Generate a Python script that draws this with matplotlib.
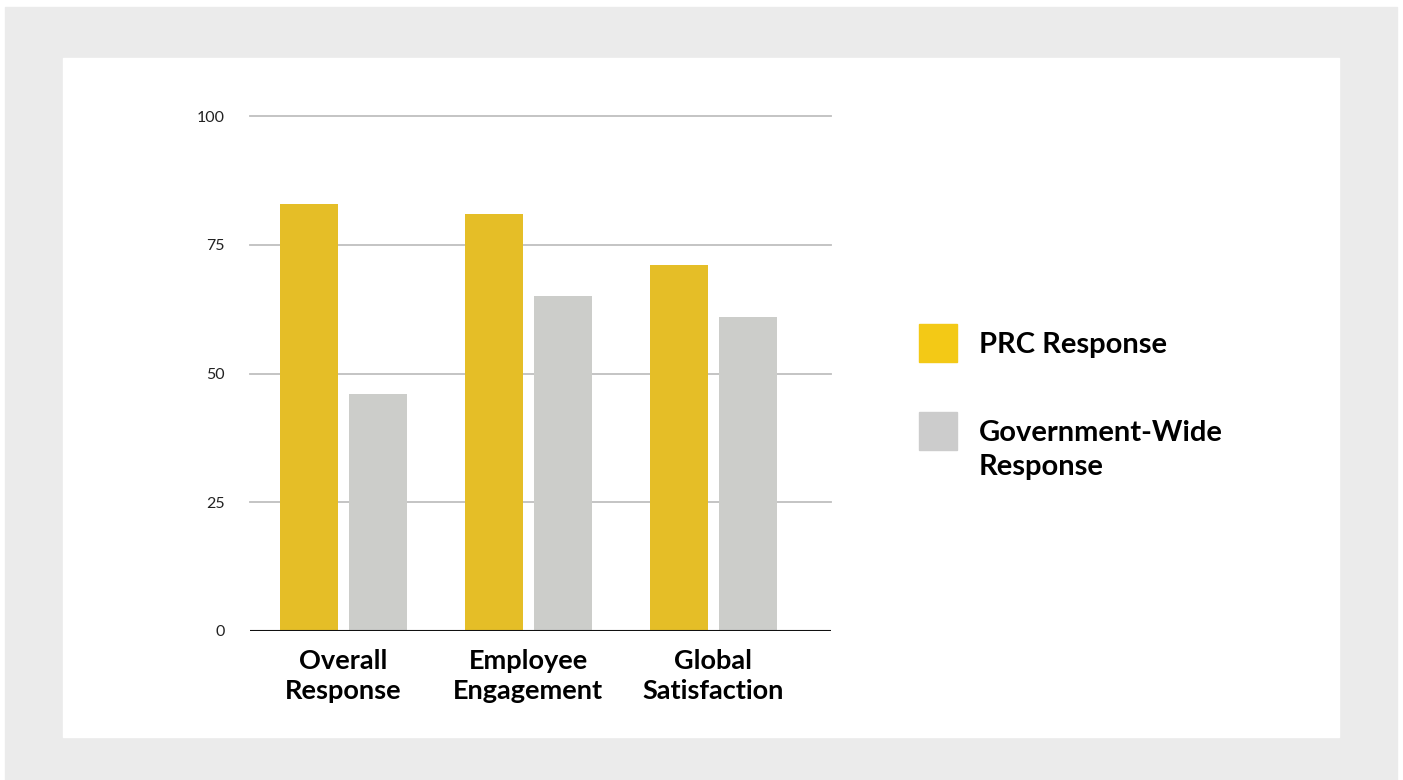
import matplotlib.pyplot as plt
from matplotlib.patches import Rectangle

# data
categories = ['Overall\nResponse', 'Employee\nEngagement', 'Global\nSatisfaction']
prc = [83, 81, 71]
gov = [46, 65, 61]
yticks = [0, 25, 50, 75, 100]
legend_labels = ['PRC Response', 'Government-Wide\nResponse']

W, H = 1403, 780
plt.rcParams['font.family'] = ['Lato', 'DejaVu Sans']

fig = plt.figure(figsize=(W / 100, H / 100), dpi=100)
fig.patch.set_facecolor('white')


def px(x0, y0, x1, y1):
    # pixel box (top-left origin) -> figure fraction
    return x0 / W, 1 - y1 / H, (x1 - x0) / W, (y1 - y0) / H


x, y, w, h = px(5, 7, 1397, 780)
fig.add_artist(Rectangle((x, y), w, h, transform=fig.transFigure, color='#EBEBEB', zorder=0))
x, y, w, h = px(63, 58, 1339, 737)
fig.add_artist(Rectangle((x, y), w, h, transform=fig.transFigure, color='white', zorder=0))

ax = fig.add_axes(px(250, 116, 831, 631))
ax.set_facecolor('none')

pos = list(range(len(categories)))
bw = 0.313
ax.bar([p - 0.186 for p in pos], prc, width=bw, color='#E5BE27', zorder=3)
ax.bar([p + 0.188 for p in pos], gov, width=bw, color='#CCCDCA', zorder=3)

ax.set_xlim(-0.503, 2.638)
ax.set_ylim(0, 100)
ax.set_yticks(yticks)
ax.set_yticklabels([str(t) for t in yticks], fontsize=11.5, color='#222222')
ax.set_xticks(pos)
ax.set_xticklabels(categories, fontsize=19.5, fontweight='bold', linespacing=1.32)
ax.tick_params(axis='y', length=0, pad=18)
ax.tick_params(axis='x', length=0, pad=13)
for t in yticks[1:]:
    ax.axhline(t, color='#BFBFBF', lw=1.3, zorder=1, clip_on=False)
ax.axhline(0, color='#111111', lw=1.5, zorder=4)
for s in ax.spines.values():
    s.set_visible(False)

# legend
leg_colors = ['#F3C916', '#CCCCCC']
leg_tops = [324, 412]
for c, top, lab in zip(leg_colors, leg_tops, legend_labels):
    x, y, w, h = px(919, top, 957, top + 38)
    fig.add_artist(Rectangle((x, y), w, h, transform=fig.transFigure, color=c))
    fig.text(979 / W, 1 - (top + 8) / H, lab, fontsize=21, fontweight='bold',
             va='top', ha='left', linespacing=1.38)

fig.savefig('out.png', dpi=100)
